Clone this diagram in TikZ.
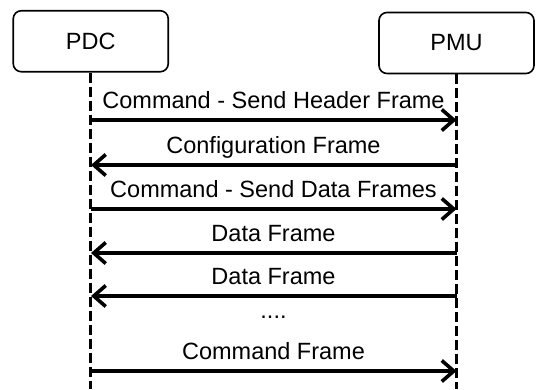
\documentclass[tikz,border=0pt]{standalone}
\usepackage{fontspec}
\setmainfont{Liberation Sans}
\usetikzlibrary{arrows.meta}
\begin{document}
\begin{tikzpicture}[x=1pt,y=-1pt,
  actor/.style={draw, line width=1.6pt, rounded corners=8pt, minimum width=155pt, minimum height=61pt, font=\fontsize{23.5}{27}\selectfont, inner sep=0pt},
  life/.style={line width=2.6pt, dash pattern=on 10pt off 4pt},
  msg/.style={line width=3.6pt, -{Straight Barb[length=12pt,width=21pt]}},
  lbl/.style={font=\fontsize{23.5}{27}\selectfont, anchor=base, inner sep=0pt}]
\useasboundingbox (0,0) rectangle (537,389);
\node[actor] (pdc) at (90.75,41.25) {PDC};
\node[actor] (pmu) at (456.5,43) {PMU};
\coordinate (pdcEnd) at (90.75,389);
\coordinate (pmuEnd) at (456.5,389);
\draw[life] (pdc.south) -- (pdcEnd);
\draw[life] (pmu.south) -- (pmuEnd);
% message coordinates
\foreach \i/\y in {1/120,2/165,3/209,4/253,5/296,6/371}{
  \coordinate (L\i) at (91,\y);
  \coordinate (R\i) at (456.5,\y);
}
\draw[msg] (L1) -- (R1);
\draw[msg] (R2) -- (L2);
\draw[msg] (L3) -- (R3);
\draw[msg] (R4) -- (L4);
\draw[msg] (R5) -- (L5);
\draw[msg] (L6) -- (R6);
\node[lbl] (t1) at (273.5,108) {Command - Send Header Frame};
\node[lbl] (t2) at (273.5,153) {Configuration Frame};
\node[lbl] (t3) at (273.5,197) {Command - Send Data Frames};
\node[lbl] (t4) at (273.5,241) {Data Frame};
\node[lbl] (t5) at (273.5,284) {Data Frame};
\node[lbl] (t6) at (273.5,318.5) {....};
\node[lbl] (t7) at (273.5,359) {Command Frame};
\end{tikzpicture}
\end{document}
